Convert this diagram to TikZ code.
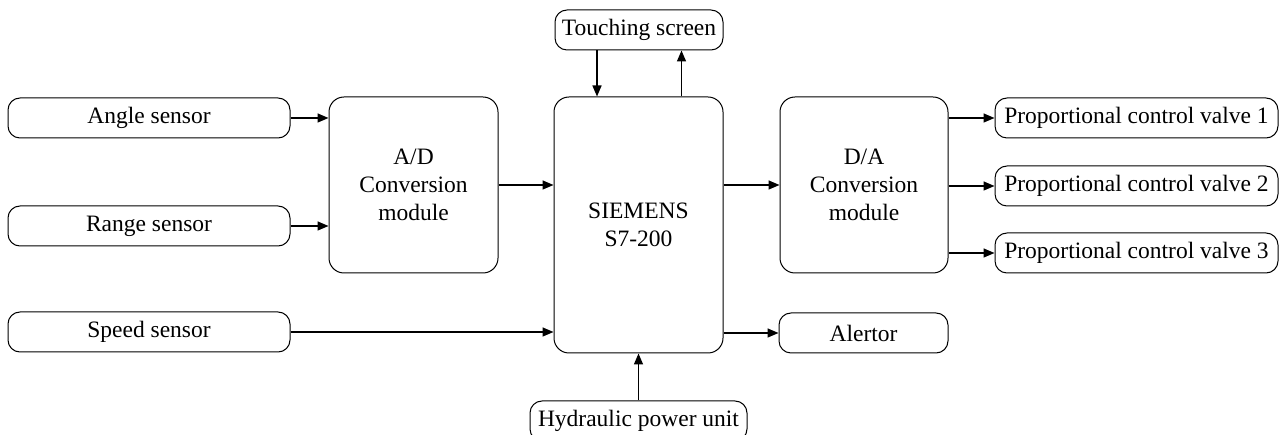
\documentclass[tikz,border=0pt]{standalone}
\usepackage{fontspec}
\setmainfont{Liberation Serif}
\usetikzlibrary{arrows.meta}
\begin{document}
\begin{tikzpicture}[x=1pt,y=-1pt,
  every node/.style={font=\fontsize{23.5}{28}\selectfont},
  smallbox/.style={draw, rounded corners=12pt, line width=1pt, inner sep=0pt, align=center},
  bigbox/.style={draw, rounded corners=15pt, line width=1pt, inner sep=0pt, align=center},
  conn/.style={line width=1.5pt, -{Triangle[length=11pt,width=9pt]}}]
\useasboundingbox (0,0) rectangle (1283,435);
\node[smallbox, minimum width=282pt, minimum height=40pt] (angle) at (149,118) {Angle sensor};
\node[smallbox, minimum width=282pt, minimum height=40pt] (range) at (149,226) {Range sensor};
\node[smallbox, minimum width=282pt, minimum height=40pt] (speed) at (149,332) {Speed sensor};
\node[bigbox, minimum width=169pt, minimum height=176pt] (ad) at (413.5,185) {A/D\\Conversion\\module};
\node[bigbox, minimum width=169pt, minimum height=256pt] (plc) at (638.5,225) {SIEMENS\\S7-200};
\node[bigbox, minimum width=168pt, minimum height=176pt] (da) at (864,185) {D/A\\Conversion\\module};
\node[smallbox, minimum width=283pt, minimum height=40pt] (pcv1) at (1136.5,118) {Proportional control valve 1};
\node[smallbox, minimum width=283pt, minimum height=40pt] (pcv2) at (1136.5,186) {Proportional control valve 2};
\node[smallbox, minimum width=283pt, minimum height=40pt] (pcv3) at (1136.5,253) {Proportional control valve 3};
\node[smallbox, minimum width=169pt, minimum height=40pt] (alert) at (863.5,333) {Alertor};
\node[smallbox, minimum width=168pt, minimum height=40pt] (touch) at (639,30) {Touching screen};
\node[smallbox, minimum width=217pt, minimum height=40pt] (hyd) at (638.5,421) {Hydraulic power unit};
\draw[conn] (angle.east) -- (angle.east -| ad.west);
\draw[conn] (range.east) -- (range.east -| ad.west);
\draw[conn] (ad.east) -- (ad.east -| plc.west);
\draw[conn] (speed.east) -- (speed.east -| plc.west);
\draw[conn] (plc.east |- da.west) -- (da.west);
\draw[conn] (da.east |- pcv1.west) -- (pcv1.west);
\draw[conn] (da.east |- pcv2.west) -- (pcv2.west);
\draw[conn] (da.east |- pcv3.west) -- (pcv3.west);
\draw[conn] (plc.east |- alert.west) -- (alert.west);
\draw[conn] ([xshift=-42pt]touch.south) -- ([xshift=-42pt]touch.south |- plc.north);
\draw[conn] ([xshift=43pt]plc.north) -- ([xshift=43pt]plc.north |- touch.south);
\draw[conn] (hyd.north) -- (hyd.north |- plc.south);
\end{tikzpicture}
\end{document}
